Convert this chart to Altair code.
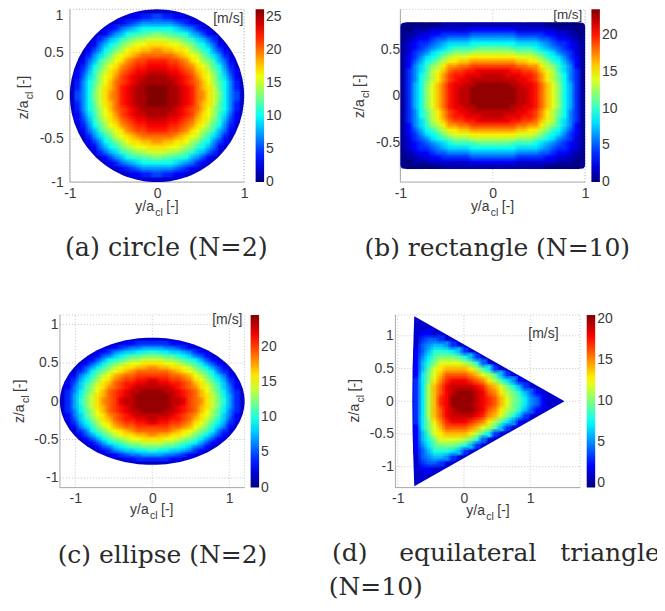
import altair as alt
import numpy as np

JET = ["#00007f", "#0000ff", "#007fff", "#00ffff", "#7fff7f", "#ffff00", "#ff7f00", "#ff0000", "#7f0000"]
SANS = "Liberation Sans"
SERIF = "DejaVu Serif"
INK = "#3a3a3a"
CAP = "#2a2a2a"

CIRCLE = [
    [26,26,25,25,24,23,22,20,19,17,15,13,10,7,5],
    [26,26,25,25,24,23,22,20,18,17,15,12,10,7,4],
    [25,25,25,24,23,22,21,20,18,16,14,12,10,7,4],
    [25,25,24,24,23,22,21,19,17,16,14,11,9,6,3],
    [24,24,23,23,22,21,20,18,17,15,13,11,8,5,3],
    [23,23,22,22,21,20,19,17,16,14,12,10,7,4],
    [22,22,21,21,20,19,17,16,14,13,11,8,6,3],
    [20,20,20,19,18,17,16,15,13,11,9,7,4],
    [19,18,18,17,17,16,14,13,11,10,7,5,3],
    [17,17,16,16,15,14,13,11,10,8,6,3],
    [15,15,14,14,13,12,11,9,8,6,4],
    [13,12,12,11,11,10,8,7,5,3],
    [10,10,10,9,8,7,6,4,3],
    [7,7,7,6,5,4,3],
    [5,4,4,3,3],
]
RECTANGLE = [
    [23,23,23,23,22,22,21,20,18,16,14,12,9,7,4,1],
    [23,23,23,23,22,22,21,20,18,16,14,12,9,7,4,1],
    [23,23,23,22,22,21,21,20,18,16,14,12,9,7,4,1],
    [22,22,22,22,21,21,20,19,17,15,13,11,9,6,4,1],
    [22,22,21,21,21,20,20,19,17,15,13,11,9,6,4,1],
    [21,21,21,20,20,19,19,18,16,14,13,10,8,6,4,1],
    [19,19,19,19,18,18,17,17,15,13,12,10,8,6,3,1],
    [17,17,17,17,16,16,15,15,13,12,10,9,7,5,3,1],
    [15,15,15,15,14,14,14,13,12,10,9,8,6,4,3,1],
    [13,13,13,13,12,12,12,11,10,9,8,6,5,4,2,1],
    [11,11,11,10,10,10,10,9,8,7,6,5,4,3,2,1],
    [9,9,9,9,8,8,8,8,7,6,5,4,4,3,2,1],
    [7,7,7,7,6,6,6,6,5,5,4,3,3,2,1,0],
    [5,5,5,5,4,4,4,4,4,3,3,2,2,1,1,0],
    [3,3,3,3,2,2,2,2,2,2,2,1,1,1,0,0],
    [1,1,1,1,1,1,1,1,1,0,0,0,0,0,0],
]
ELLIPSE = [
    [24,24,24,23,23,22,20,19,18,16,14,12,10,7,4],
    [24,24,24,23,22,21,20,19,17,16,14,12,9,7,4],
    [24,24,23,23,22,21,20,19,17,15,13,11,9,6,4],
    [23,23,23,22,21,20,19,18,16,15,13,11,8,6,3],
    [23,22,22,21,21,20,19,17,16,14,12,10,8,5,3],
    [22,21,21,20,20,19,18,16,15,13,11,9,7,4],
    [20,20,20,19,19,18,17,15,14,12,10,8,6,3],
    [19,19,19,18,17,16,15,14,12,11,9,6,4],
    [18,17,17,16,16,15,14,12,11,9,7,5,3],
    [16,16,15,15,14,13,12,11,9,7,5,3],
    [14,14,13,13,12,11,10,9,7,5,3],
    [12,12,11,11,10,9,8,6,5,3],
    [10,9,9,8,8,7,6,4,3],
    [7,7,6,6,5,4,3],
    [4,4,4,3,3],
]
TRIANGLE = [
    [3,7,11,14,17,18,20,20,20,20,19,18,17,16,14,12,10,9,7,5,4,2,1],
    [3,7,11,14,16,18,19,20,20,20,19,18,16,15,13,11,10,8,6,4,2],
    [3,7,11,14,16,18,19,19,19,19,18,17,15,14,12,10,8,6,3],
    [3,7,10,13,15,17,18,18,18,17,16,15,13,11,9,7,5,2],
    [2,7,10,12,14,16,16,16,16,15,14,12,11,9,6,3],
    [2,6,9,12,13,14,14,14,14,13,11,9,7,3],
    [2,6,8,10,12,12,12,12,11,10,8,4],
    [2,5,7,9,10,10,10,9,8,6,3],
    [2,4,6,8,8,8,7,6,3],
    [1,4,5,6,6,5,3],
    [1,3,4,4,3],
    [1,2,2,1],
    [1,1],
]
# Outlines of the sections (half, mirrored about y = 0 or z = 0)
ROUND_Y = [1,.999,.995,.98,.95,.9,.85,.8,.75,.7,.65,.6,.55,.5,.45,.4,.35,.3,.25,.2,.15,.1,.05,0]
ROUND_Z = [0,.045,.1,.199,.312,.436,.527,.6,.661,.714,.76,.8,.835,.866,.893,.917,.937,.954,.968,.98,.989,.995,.999,1]
RECT_Y = [1,.995,.98,.95,0]
RECT_Z = [.74,.765,.78,.785,.785]
TRI_Y = [-.78,-.775,-.76,-.75,1.52]
TRI_Z = [0,.5,1.0,1.3,0]

def mirror_outline(ys, zs):
    pts = [(-y, z) for y, z in zip(ys, zs)]
    pts += [(y, z) for y, z in reversed(list(zip(ys, zs))[:-1])]
    return [{"x": a, "y": b, "y2": -b} for a, b in pts]

def quad_cells(rows, dy, dz):
    out = []
    for j, row in enumerate(rows):
        for i, v in enumerate(row):
            for sy in (-1, 1):
                for sz in (-1, 1):
                    a, b = sorted((sy * i * dy, sy * (i + 1) * dy))
                    c, d = sorted((sz * j * dz, sz * (j + 1) * dz))
                    out.append((a, b, c, d, v))
    return out

def tri_cells(rows, y0, dy, dz):
    out = []
    for j, row in enumerate(rows):
        for i, v in enumerate(row):
            for sz in (-1, 1):
                c, d = sorted((sz * j * dz, sz * (j + 1) * dz))
                out.append((y0 + i * dy, y0 + (i + 1) * dy, c, d, v))
    return out

def copies(cells, outline, dy, dz):
    """The same cells, drawn again a quarter of a cell off in each direction, so that they blend on the page."""
    ox = np.array([r["x"] for r in outline])
    oz = np.array([r["y"] for r in outline])
    keep = np.argsort(ox, kind="stable")
    ox, oz = ox[keep], oz[keep]
    lim = lambda x: float(np.interp(x, ox, oz))
    tables = []
    for sx, sz in ((0, 0), (1, 1), (-1, 1), (1, -1), (-1, -1)):
        t = []
        for a, b, c, d, v in cells:
            a1 = a + sx * dy / 4 - dy * .04
            b1 = b + sx * dy / 4 + dy * .04
            c1 = c + sz * dz / 4 - dz * .04
            d1 = d + sz * dz / 4 + dz * .04
            top = max(abs(c1), abs(d1))
            if top > lim(a1) + .006 or top > lim(b1) + .006 or a1 < ox[0] or b1 > ox[-1]:
                continue
            t.append({"x": round(a1, 4), "x2": round(b1, 4), "y": round(c1, 4), "y2": round(d1, 4), "v": v})
        tables.append(t)
    return tables

def val(rows):
    return alt.Data(values=rows)

def text(s, x, y, font=SANS, size=14, color=INK, baseline="alphabetic", **kw):
    return alt.Chart(alt.Data(values=[{"t": s}])).mark_text(font=font, fontSize=size, color=color, baseline=baseline, **kw).encode(
        x=alt.value(x), y=alt.value(y), text="t:N")

def xlabel(x0, y0):
    return [text("y/a", x0, y0, align="left"), text("cl", x0 + 20, y0 + 5, size=10.5, align="left"),
            text("[-]", x0 + 31, y0, align="left")]

def zlabel(x0, y0):
    return [text("z/a", x0, y0, align="left", angle=270), text("cl", x0 + 5, y0 - 20, size=10.5, align="left", angle=270),
            text("[-]", x0, y0 - 31, align="left", angle=270)]

def panel(W, H, xdom, zdom, frame, xt, zt, zvals, cell_tables, outline, dom, ticks, leg_x, y_off, extras, edge="#0000c8"):
    xs = alt.Scale(domain=xdom, nice=False, zero=False)
    ys = alt.Scale(domain=zdom, nice=False, zero=False)
    xa = alt.Axis(title=None, values=xt, labelExpr="''+datum.value", domain=False, ticks=False, grid=False, labelFont=SANS,
                  labelFontSize=14, labelColor=INK, labelPadding=4, labelFlush=False, labelOverlap=False)
    ya = alt.Axis(title=None, values=zvals, labelExpr="''+datum.value", domain=False, ticks=False, grid=False, labelFont=SANS,
                  labelFontSize=14, labelColor=INK, labelPadding=2, labelFlush=False, labelOverlap=False, offset=y_off)
    X = alt.X("x:Q", scale=xs, axis=xa)
    Y = alt.Y("y:Q", scale=ys, axis=ya, stack=None)
    x0, x1, z0, z1 = frame
    h_grid = [{"x": x0, "x2": x1, "y": z} for z in list(zt) + [z1]]
    v_grid = [{"x": x, "y": z0, "y2": z1} for x in list(xt) + [x1]]
    dash = dict(color="#c4c4c4", strokeDash=[1, 2], strokeWidth=1)
    solid = dict(color="#a8a8a8", strokeWidth=1)
    cscale = alt.Scale(domain=dom, range=JET, interpolate="rgb", nice=False, zero=False)
    leg = alt.Legend(type="gradient", values=ticks, orient="none", legendX=leg_x, legendY=0, direction="vertical",
                     gradientLength=H, gradientThickness=8.5, gradientStrokeWidth=0, title=None, labelFont=SANS,
                     labelFontSize=14, labelColor=INK, labelOffset=2, padding=0, labelOverlap=False)
    layers = [
        alt.Chart(val(h_grid)).mark_rule(**dash).encode(x=X, x2="x2:Q", y=Y),
        alt.Chart(val(v_grid)).mark_rule(**dash).encode(x=X, y=Y, y2="y2:Q"),
        alt.Chart(val([{"x": x0, "x2": x1, "y": z0}])).mark_rule(**solid).encode(x=X, x2="x2:Q", y=Y),
        alt.Chart(val([{"x": x0, "y": z0, "y2": z1}])).mark_rule(**solid).encode(x=X, y=Y, y2="y2:Q"),
        alt.Chart(val(outline)).mark_area(color=edge, orient="vertical").encode(x=X, y=Y, y2="y2:Q"),
    ]
    for k, t in enumerate(cell_tables):
        layers.append(alt.Chart(val(t)).mark_rect(fillOpacity=round(1 / (k + 1), 3)).encode(
            x=X, x2="x2:Q", y=Y, y2="y2:Q", color=alt.Color("v:Q", scale=cscale, legend=leg)))
    return alt.layer(*layers, *extras).properties(width=W, height=H)

ROUND = mirror_outline(ROUND_Y, ROUND_Z)
ROUND_C = [{"x": r["x"] * 1.2, "y": r["y"] * .83, "y2": r["y2"] * .83} for r in ROUND]
RECT = mirror_outline(RECT_Y, RECT_Z)
TRI = [{"x": y, "y": z, "y2": -z} for y, z in zip(TRI_Y, TRI_Z)]

a = panel(185, 173, [-1.1146, 1.0057], [-1, 1], (-1, 1, -1, 1), [-1, 0, 1], [-1, -.5, 0, .5, 1], [-1, -.5, 0, .5],
          copies(quad_cells(CIRCLE, 1 / 16, 1 / 16), ROUND, 1 / 16, 1 / 16), ROUND, [-.01, 26.1], [0, 5, 10, 15, 20, 25], 196, -5.3,
          [text("1", 3.3, 0, align="right", baseline="top"), text("[m/s]", 168.7, 9.7, size=14, align="center", baseline="middle"),
           text("(a) circle (N=2)", 106.6, 247.4, font=SERIF, size=25.5, color=CAP, align="center"),
           *xlabel(75.5, 201.7), *zlabel(-32.3, 110)])
b = panel(190, 173, [-1.054, 1], [-.927, .927], (-1, 1, -.927, .927), [-1, 0, 1], [-.5, 0, .5], [-.5, 0, .5],
          copies(quad_cells(RECTANGLE, 1 / 16, .785 / 16), RECT, 1 / 16, .785 / 16), RECT, [-.01, 23.5], [0, 5, 10, 15, 20], 196.3, -6.3,
          [text("[m/s]", 172.6, 6, size=13.5, align="center", baseline="middle"),
           text("(b) rectangle (N=10)", 102, 247.4, font=SERIF, size=25, color=CAP, align="center"),
           *xlabel(75.6, 201.7), *zlabel(-31.7, 108.7)], edge="#00009a")
c = panel(185, 173, [-1.2, 1.2], [-1.127, 1.127], (-1.2, 1.2, -1.127, 1.127), [-1, 0, 1], [-1, -.5, 0, .5, 1], [-1, -.5, 0, .5, 1],
          copies(quad_cells(ELLIPSE, 1.2 / 16, .83 / 16), ROUND_C, 1.2 / 16, .83 / 16), ROUND_C, [-.01, 24.6], [0, 5, 10, 15, 20], 191, 0,
          [text("[m/s]", 167.7, 5, size=14, align="center", baseline="middle"),
           text("(c) ellipse (N=2)", 102.7, 249, font=SERIF, size=25, color=CAP, align="center"),
           *xlabel(70.3, 199), *zlabel(-36.3, 108.3)])
d = panel(190, 173, [-1.035, 1.831], [-1.32, 1.32], (-1.035, 1.755, -1.32, 1.32), [-1, 0, 1], [-1, -.5, 0, .5, 1], [-1, -.5, 0, .5, 1],
          copies(tri_cells(TRIANGLE, -.76, 2.28 / 25, .09), TRI, 2.28 / 25, .09), TRI, [-.6, 20.5], [0, 5, 10, 15, 20], 191.6, 0,
          [text("[m/s]", 148.3, 19, size=14, align="center", baseline="middle"),
           text("(d)\u00a0\u00a0\u00a0\u00a0equilateral\u00a0\u00a0\u00a0triangle", -63.5, 246.7, font=SERIF, size=25, color=CAP, align="left"),
           text("(N=10)", -66.7, 281, font=SERIF, size=25, color=CAP, align="left"),
           *xlabel(71, 200.7), *zlabel(-36.7, 107.7)], edge="#0000d0")

chart = alt.concat(a, b, c, d, columns=2, spacing={"row": 133, "column": 151}, bounds="flush", align="each").resolve_scale(
    color="independent"
).properties(
    padding={"left": 4, "top": -0.1, "right": -3, "bottom": 0}, background="white"
).configure_view(stroke=None)

chart.save("out.html", embed_options={"renderer": "svg", "actions": False})
